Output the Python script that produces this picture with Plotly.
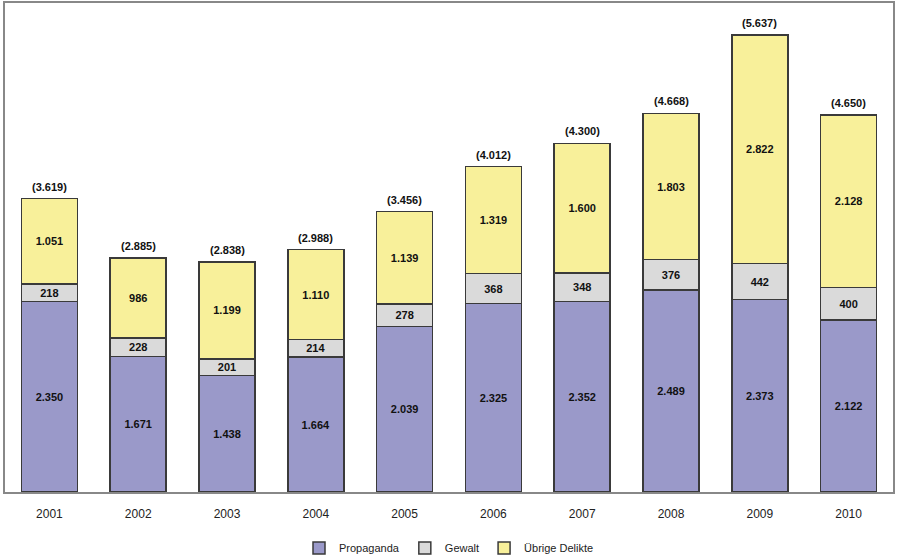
import plotly.graph_objects as go

years = ["2001", "2002", "2003", "2004", "2005", "2006", "2007", "2008", "2009", "2010"]
propaganda = [2350, 1671, 1438, 1664, 2039, 2325, 2352, 2489, 2373, 2122]
gewalt = [218, 228, 201, 214, 278, 368, 348, 376, 442, 400]
uebrige = [1051, 986, 1199, 1110, 1139, 1319, 1600, 1803, 2822, 2128]
totals = [3619, 2885, 2838, 2988, 3456, 4012, 4300, 4668, 5637, 4650]


def de(n):
    return f"{n:,}".replace(",", ".")


series = [
    ("Propaganda", propaganda, "#9a99c9"),
    ("Gewalt", gewalt, "#dadada"),
    ("Übrige Delikte", uebrige, "#f8f09a"),
]

fig = go.Figure()
for name, vals, col in series:
    fig.add_trace(go.Bar(
        x=years, y=vals, name=name,
        marker=dict(color=col, line=dict(color="#3a3a3a", width=1.5)),
        text=[de(v) for v in vals], textposition="inside",
        insidetextanchor="middle",
        textfont=dict(family="Arial", size=11, color="#111111", weight="bold"),
        width=0.63,
    ))

for i, t in enumerate(totals):
    fig.add_annotation(x=i, y=t, text=f"({de(t)})", showarrow=False,
                       yanchor="bottom", yshift=4,
                       font=dict(family="Arial", size=11, color="#111111", weight="bold"))

fig.update_layout(
    barmode="stack",
    width=900, height=557,
    margin=dict(l=5, r=7, t=3, b=65, autoexpand=False),
    paper_bgcolor="white", plot_bgcolor="white",
    uniformtext=dict(mode="show", minsize=11),
    legend=dict(orientation="h", x=0.5, xanchor="center", y=-0.085, yanchor="top",
                font=dict(family="Arial", size=11, color="#222222"),
                traceorder="normal", itemwidth=30),
    xaxis=dict(type="category", showline=True, linecolor="#888888", linewidth=1.5,
               mirror=True, tickfont=dict(family="Arial", size=12, color="#222222"),
               ticks="", showgrid=False, ticklabelstandoff=10),
    yaxis=dict(range=[0, 6030], showline=True, linecolor="#888888", linewidth=1.5,
               mirror=True, showticklabels=False, ticks="", showgrid=False,
               zeroline=False),
)

fig.write_html("out.html", config={"displayModeBar": False},
               post_script="document.body.style.margin='0';document.body.style.overflow='hidden';")
